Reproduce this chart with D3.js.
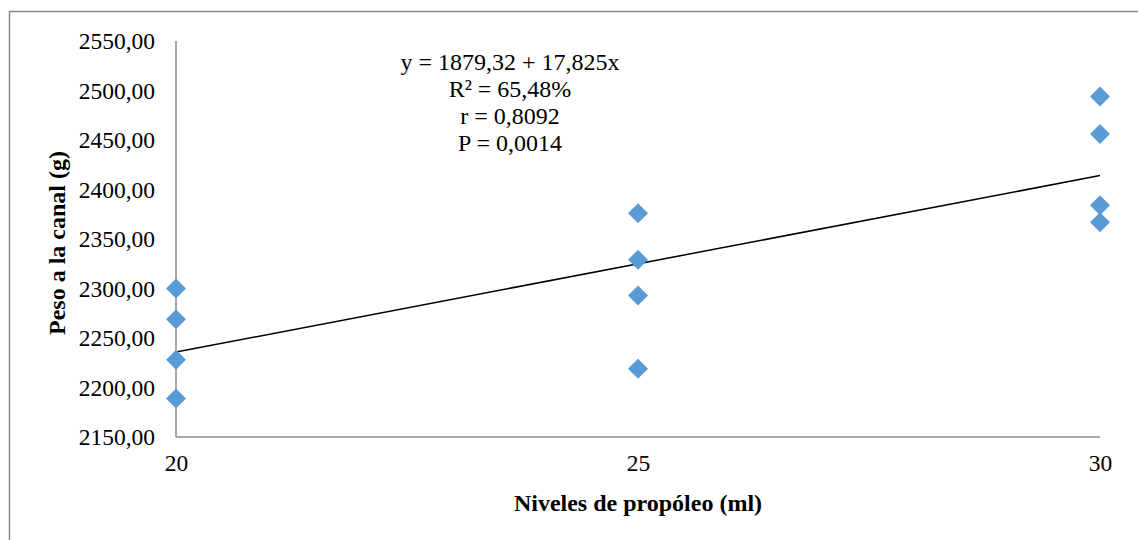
<!DOCTYPE html>
<html>
<head>
<meta charset="utf-8">
<script src="https://cdn.jsdelivr.net/npm/d3@7"></script>
<style>
  body { margin: 0; background: #fff; }
  svg text { font-family: "Liberation Serif", "Times New Roman", serif; fill: #000; }
  .axis path { stroke: #8c8c8c; stroke-width: 1.5; }
  .axis line { display: none; }
  .axis text { font-size: 23.5px; }
  .label { font-size: 24px; font-weight: bold; }
  .stats { font-size: 24px; }
</style>
</head>
<body>
<div id="chart"></div>
<script>
// data
var niveles = [20, 20, 20, 20, 25, 25, 25, 25, 30, 30, 30, 30];
var peso = [2300, 2269, 2228, 2189, 2376, 2329, 2293, 2219, 2494, 2456, 2384, 2367];
var xTicks = [20, 25, 30];
var yTicks = [2150, 2200, 2250, 2300, 2350, 2400, 2450, 2500, 2550];
var intercept = 1879.32, slope = 17.825;
var statLines = ["y = 1879,32 + 17,825x", "R\u00b2 = 65,48%", "r = 0,8092", "P = 0,0014"];

var W = 1138, H = 540;
var margin = {top: 41, right: 38, bottom: 103, left: 176},
    width = W - margin.left - margin.right,
    height = H - margin.top - margin.bottom;

var svg0 = d3.select("#chart").append("svg")
    .attr("width", W)
    .attr("height", H);

// outer chart frame
svg0.append("rect")
    .attr("x", 9.5).attr("y", 11.5)
    .attr("width", W + 20).attr("height", H + 20)
    .attr("fill", "none")
    .attr("stroke", "#8c8c8c")
    .attr("stroke-width", 1.5);

var svg = svg0.append("g")
    .attr("transform", "translate(" + margin.left + "," + margin.top + ")");

var x = d3.scaleLinear().domain([20, 30]).range([0, width]);
var y = d3.scaleLinear().domain([2150, 2550]).range([height, 0]);

var comma = function(d) { return d3.format(".2f")(d).replace(".", ","); };

// ADD AXES
svg.append("g")
    .attr("class", "x axis")
    .attr("transform", "translate(0," + height + ")")
    .call(d3.axisBottom(x).tickValues(xTicks).tickSize(0).tickSizeOuter(0).tickPadding(17).tickFormat(d3.format("d")))
    .call(function(g) { g.select(".domain").attr("d", "M0,0H" + width); });

svg.append("g")
    .attr("class", "y axis")
    .call(d3.axisLeft(y).tickValues(yTicks).tickSize(0).tickSizeOuter(0).tickPadding(21).tickFormat(comma))
    .call(function(g) { g.select(".domain").attr("d", "M0," + height + "V0"); });

svg.selectAll(".axis").attr("font-size", null).attr("font-family", null);

// ADD AXIS LABELS
svg.append("text")
    .attr("class", "label")
    .attr("transform", "rotate(-90)")
    .attr("x", -202)
    .attr("y", -111)
    .style("text-anchor", "middle")
    .text("Peso a la canal (g)");

svg.append("text")
    .attr("class", "label")
    .attr("x", x(25))
    .attr("y", height + 74)
    .style("text-anchor", "middle")
    .text("Niveles de propóleo (ml)");

// REGRESSION LINE
svg.append("line")
    .attr("x1", x(20)).attr("y1", y(intercept + slope * 20))
    .attr("x2", x(30)).attr("y2", y(intercept + slope * 30))
    .attr("stroke", "#000")
    .attr("stroke-width", 1.5);

// ADD DIAMONDS
var diamond = d3.symbol().type(d3.symbolSquare).size(200);
svg.selectAll(".pt")
    .data(niveles.map(function(n, i) { return {x: n, y: peso[i]}; }))
    .enter().append("path")
    .attr("class", "pt")
    .attr("d", diamond)
    .attr("transform", function(d) { return "translate(" + x(d.x) + "," + y(d.y) + ") rotate(45)"; })
    .attr("fill", "#5b9bd5");

// STATS TEXT
svg.selectAll(".stats")
    .data(statLines)
    .enter().append("text")
    .attr("class", "stats")
    .attr("x", 510 - margin.left)
    .attr("y", function(d, i) { return 29 + i * 27; })
    .style("text-anchor", "middle")
    .text(function(d) { return d; });
</script>
</body>
</html>
